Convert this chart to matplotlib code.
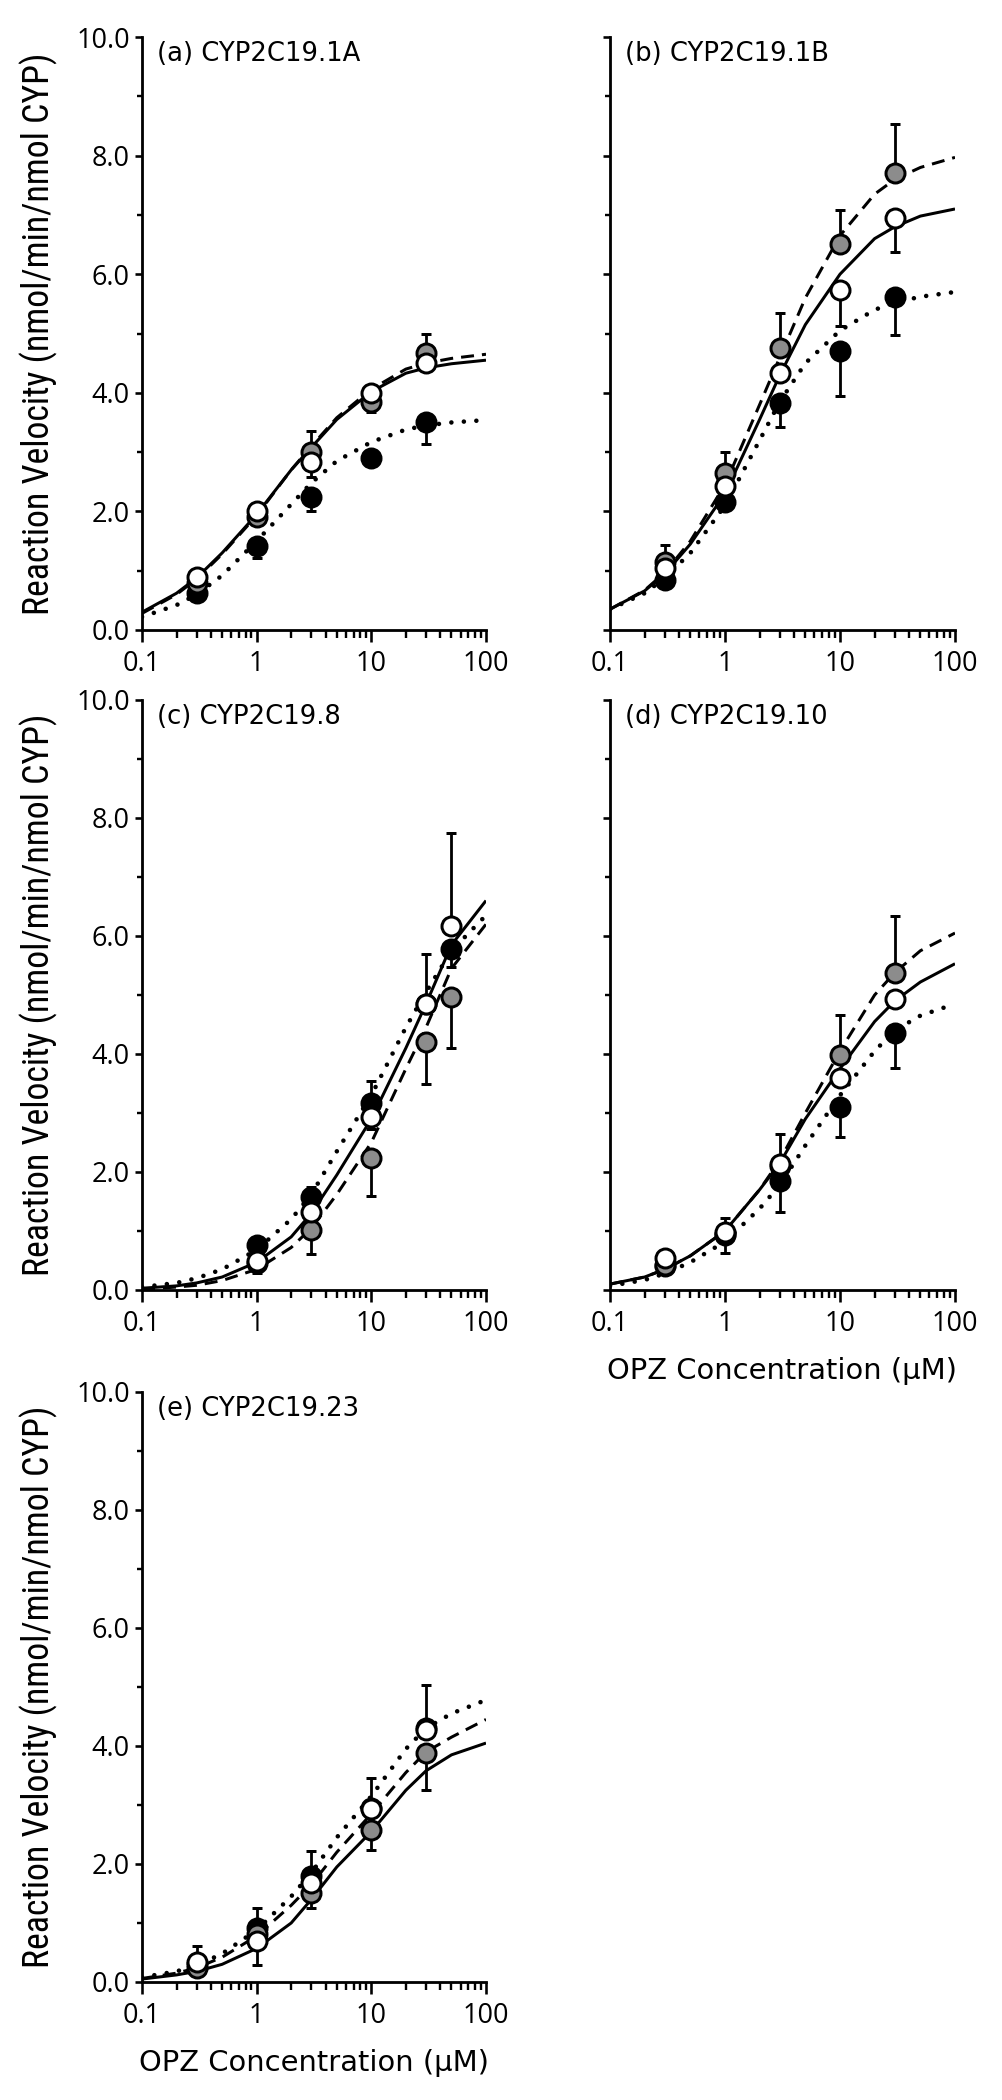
import matplotlib
matplotlib.use("Agg")
import matplotlib.pyplot as plt
from matplotlib.ticker import FixedLocator, NullFormatter, FixedFormatter

plt.rcParams['lines.scale_dashes'] = False

# ---------------- data ----------------
CURVE_X = [0.1, 0.2, 0.3, 0.5, 1, 2, 3, 5, 10, 20, 30, 50, 100]

# Panel (a) CYP2C19.1A
A_CONC = [0.3, 1, 3, 10, 30]
A_BLACK = [0.62, 1.42, 2.24, 2.90, 3.50]
A_BLACK_LO = [0.08, 0.20, 0.23, 0.05, 0.37]
A_BLACK_HI = [0, 0, 0, 0, 0]
A_GRAY = [0.80, 1.90, 3.01, 3.85, 4.67]
A_GRAY_LO = [0, 0, 0, 0.17, 0]
A_GRAY_HI = [0.05, 0.08, 0.35, 0, 0.33]
A_WHITE = [0.90, 2.00, 2.83, 3.99, 4.50]
A_WHITE_LO = [0.05, 0.05, 0.25, 0.05, 0.14]
A_WHITE_HI = [0, 0, 0, 0, 0]
A_SOLID = [0.30, 0.62, 0.88, 1.30, 1.95, 2.70, 3.08, 3.55, 4.02, 4.33, 4.42, 4.49, 4.55]
A_DASHED = [0.28, 0.60, 0.86, 1.28, 1.93, 2.70, 3.10, 3.58, 4.06, 4.40, 4.50, 4.58, 4.65]
A_DOTTED = [0.22, 0.42, 0.60, 0.92, 1.50, 2.12, 2.48, 2.85, 3.17, 3.38, 3.45, 3.50, 3.54]

# Panel (b) CYP2C19.1B
B_CONC = [0.3, 1, 3, 10, 30]
B_BLACK = [0.85, 2.16, 3.82, 4.71, 5.62]
B_BLACK_LO = [0.10, 0.12, 0.39, 0.76, 0.65]
B_BLACK_HI = [0, 0, 0, 0, 0]
B_GRAY = [1.15, 2.64, 4.75, 6.51, 7.71]
B_GRAY_LO = [0, 0, 0, 0, 0]
B_GRAY_HI = [0.28, 0.37, 0.59, 0.58, 0.83]
B_WHITE = [1.05, 2.43, 4.34, 5.73, 6.94]
B_WHITE_LO = [0.05, 0.05, 0.10, 0.60, 0.56]
B_WHITE_HI = [0, 0, 0, 0, 0]
B_SOLID = [0.35, 0.66, 0.95, 1.45, 2.30, 3.55, 4.30, 5.15, 6.00, 6.60, 6.80, 6.98, 7.10]
B_DASHED = [0.35, 0.67, 0.97, 1.50, 2.45, 3.80, 4.60, 5.60, 6.65, 7.35, 7.60, 7.80, 7.97]
B_DOTTED = [0.35, 0.62, 0.88, 1.30, 2.10, 3.20, 3.85, 4.50, 5.05, 5.40, 5.52, 5.62, 5.70]

# Panel (c) CYP2C19.8
C_CONC = [1, 3, 10, 30, 50]
C_BLACK = [0.76, 1.57, 3.17, 4.85, 5.78]
C_BLACK_LO = [0, 0, 0, 0, 0.30]
C_BLACK_HI = [0, 0.18, 0.37, 0, 0]
C_GRAY = [0.45, 1.01, 2.23, 4.20, 4.96]
C_GRAY_LO = [0, 0.40, 0.63, 0.71, 0.85]
C_GRAY_HI = [0, 0, 0, 0, 0]
C_WHITE = [0.49, 1.33, 2.94, 4.84, 6.17]
C_WHITE_LO = [0.20, 0, 0.21, 0, 0]
C_WHITE_HI = [0, 0, 0, 0.86, 1.57]
C_SOLID = [0.03, 0.07, 0.12, 0.22, 0.47, 0.90, 1.30, 1.95, 2.90, 4.10, 4.85, 5.85, 6.60]
C_DASHED = [0.01, 0.05, 0.08, 0.16, 0.35, 0.72, 1.05, 1.62, 2.50, 3.75, 4.45, 5.45, 6.20]
C_DOTTED = [0.05, 0.12, 0.20, 0.35, 0.68, 1.20, 1.62, 2.35, 3.30, 4.45, 5.05, 5.75, 6.35]

# Panel (d) CYP2C19.10
D_CONC = [0.3, 1, 3, 10, 30]
D_BLACK = [0.40, 0.93, 1.84, 3.10, 4.35]
D_BLACK_LO = [0.05, 0.30, 0.51, 0.50, 0.59]
D_BLACK_HI = [0, 0, 0, 0, 0]
D_GRAY = [0.42, 0.95, 2.10, 3.98, 5.38]
D_GRAY_LO = [0, 0, 0, 0, 0]
D_GRAY_HI = [0, 0, 0, 0.68, 0.96]
D_WHITE = [0.54, 0.98, 2.14, 3.59, 4.94]
D_WHITE_LO = [0, 0, 0, 0, 0]
D_WHITE_HI = [0, 0.24, 0.51, 0, 0]
D_SOLID = [0.10, 0.22, 0.35, 0.58, 1.00, 1.70, 2.15, 2.90, 3.75, 4.55, 4.90, 5.22, 5.53]
D_DASHED = [0.10, 0.22, 0.35, 0.58, 1.00, 1.70, 2.20, 3.00, 4.05, 5.00, 5.38, 5.75, 6.05]
D_DOTTED = [0.07, 0.17, 0.28, 0.47, 0.82, 1.38, 1.78, 2.45, 3.30, 4.05, 4.40, 4.65, 4.85]

# Panel (e) CYP2C19.23
E_CONC = [0.3, 1, 3, 10, 30]
E_BLACK = [0.30, 0.91, 1.79, 2.95, 4.30]
E_BLACK_LO = [0, 0, 0, 0, 0]
E_BLACK_HI = [0, 0.35, 0.43, 0, 0]
E_GRAY = [0.23, 0.82, 1.51, 2.58, 3.88]
E_GRAY_LO = [0, 0, 0.26, 0.35, 0.63]
E_GRAY_HI = [0, 0, 0, 0, 0]
E_WHITE = [0.34, 0.70, 1.67, 2.93, 4.27]
E_WHITE_LO = [0, 0.41, 0, 0, 0]
E_WHITE_HI = [0.27, 0, 0, 0.53, 0.76]
E_SOLID = [0.05, 0.12, 0.18, 0.30, 0.57, 1.00, 1.40, 1.95, 2.55, 3.25, 3.58, 3.85, 4.05]
E_DASHED = [0.06, 0.15, 0.24, 0.42, 0.78, 1.30, 1.65, 2.20, 2.85, 3.55, 3.90, 4.15, 4.45]
E_DOTTED = [0.08, 0.18, 0.28, 0.48, 0.88, 1.45, 1.85, 2.45, 3.15, 3.95, 4.30, 4.55, 4.78]

TITLES = ["(a) CYP2C19.1A", "(b) CYP2C19.1B", "(c) CYP2C19.8",
          "(d) CYP2C19.10", "(e) CYP2C19.23"]
X_TICKS = [0.1, 1, 10, 100]
X_TICK_LABELS = ["0.1", "1", "10", "100"]
Y_TICKS = [0, 2, 4, 6, 8, 10]
Y_TICK_LABELS = ["0.0", "2.0", "4.0", "6.0", "8.0", "10.0"]
Y_LABEL = "Reaction Velocity (nmol/min/nmol CYP)"
X_LABEL = "OPZ Concentration (\u00b5M)"

# ---------------- layout / style ----------------
W, H, DPI = 1003, 2100, 100
fig = plt.figure(figsize=(W / DPI, H / DPI), dpi=DPI)
fig.patch.set_facecolor("white")

TICK_FONT = ["Open Sans", "DejaVu Sans"]
YLAB_FONT = ["Roboto Condensed", "Open Sans Condensed", "Liberation Sans Narrow", "DejaVu Sans"]
MAIN_FONT = ["DejaVu Sans"]
GRAY = "#8c8c8c"
PX = 72.0 / DPI  # points per pixel

PANELS = [
    dict(box=(142, 37, 486, 630), title=TITLES[0], ylab=True, xlab=False,
         conc=A_CONC, pts=[(A_BLACK, A_BLACK_LO, A_BLACK_HI), (A_GRAY, A_GRAY_LO, A_GRAY_HI), (A_WHITE, A_WHITE_LO, A_WHITE_HI)],
         curves=(A_SOLID, A_DASHED, A_DOTTED)),
    dict(box=(610, 37, 955, 630), title=TITLES[1], ylab=False, xlab=False,
         conc=B_CONC, pts=[(B_BLACK, B_BLACK_LO, B_BLACK_HI), (B_GRAY, B_GRAY_LO, B_GRAY_HI), (B_WHITE, B_WHITE_LO, B_WHITE_HI)],
         curves=(B_SOLID, B_DASHED, B_DOTTED)),
    dict(box=(142, 700, 486, 1290), title=TITLES[2], ylab=True, xlab=False,
         conc=C_CONC, pts=[(C_BLACK, C_BLACK_LO, C_BLACK_HI), (C_GRAY, C_GRAY_LO, C_GRAY_HI), (C_WHITE, C_WHITE_LO, C_WHITE_HI)],
         curves=(C_SOLID, C_DASHED, C_DOTTED)),
    dict(box=(610, 700, 955, 1290), title=TITLES[3], ylab=False, xlab=True,
         conc=D_CONC, pts=[(D_BLACK, D_BLACK_LO, D_BLACK_HI), (D_GRAY, D_GRAY_LO, D_GRAY_HI), (D_WHITE, D_WHITE_LO, D_WHITE_HI)],
         curves=(D_SOLID, D_DASHED, D_DOTTED)),
    dict(box=(142, 1392, 486, 1982), title=TITLES[4], ylab=True, xlab=True,
         conc=E_CONC, pts=[(E_BLACK, E_BLACK_LO, E_BLACK_HI), (E_GRAY, E_GRAY_LO, E_GRAY_HI), (E_WHITE, E_WHITE_LO, E_WHITE_HI)],
         curves=(E_SOLID, E_DASHED, E_DOTTED)),
]

FILLS = ["black", GRAY, "white"]
ylabels, titles, xlabels = [], [], []

for p in PANELS:
    x0, y0, x1, y1 = p["box"]
    ax = fig.add_axes([x0 / W, 1 - y1 / H, (x1 - x0) / W, (y1 - y0) / H])
    ax.set_xscale("log")
    ax.set_xlim(0.1, 100)
    ax.set_ylim(0, 10)
    for s in ("top", "right"):
        ax.spines[s].set_visible(False)
    for s in ("left", "bottom"):
        ax.spines[s].set_linewidth(2.8 * PX)
    ax.patch.set_alpha(0)

    solid, dashed, dotted = p["curves"]
    ax.plot(CURVE_X, solid, color="black", lw=3.0 * PX, solid_capstyle="butt", zorder=2)
    ax.plot(CURVE_X, dashed, color="black", lw=3.0 * PX, dashes=(13 * PX, 8 * PX), zorder=2)
    ax.plot(CURVE_X, dotted, color="black", lw=4.6 * PX, dashes=(0.01, 12.5 * PX),
            dash_capstyle="round", zorder=2)

    for i, ((vals, lo, hi), fc) in enumerate(zip(p["pts"], FILLS)):
        ax.errorbar(p["conc"], vals, yerr=[lo, hi], fmt="o", ms=19 * PX, mfc=fc, mec="black",
                    mew=3.0 * PX, ecolor="black", elinewidth=2.8 * PX, capsize=5 * PX,
                    capthick=2.8 * PX, zorder=3 + i, clip_on=False)

    ax.xaxis.set_major_locator(FixedLocator(X_TICKS))
    ax.xaxis.set_major_formatter(FixedFormatter(X_TICK_LABELS))
    minors = [m * d for d in (0.1, 1, 10) for m in range(2, 10)]
    ax.xaxis.set_minor_locator(FixedLocator(minors))
    ax.xaxis.set_minor_formatter(NullFormatter())
    ax.yaxis.set_major_locator(FixedLocator(Y_TICKS))
    ax.yaxis.set_minor_locator(FixedLocator([1, 3, 5, 7, 9]))
    ax.yaxis.set_minor_formatter(NullFormatter())
    if p["ylab"]:
        ax.yaxis.set_major_formatter(FixedFormatter(Y_TICK_LABELS))
    else:
        ax.yaxis.set_major_formatter(NullFormatter())

    ax.tick_params(axis="x", which="major", direction="out", length=12 * PX, width=2.6 * PX,
                   pad=8 * PX, labelsize=27 * PX)
    ax.tick_params(axis="x", which="minor", direction="out", length=8 * PX, width=2.4 * PX)
    ax.tick_params(axis="y", which="major", direction="out", length=7 * PX, width=2.6 * PX,
                   pad=5 * PX, labelsize=27 * PX)
    ax.tick_params(axis="y", which="minor", direction="out", length=5 * PX, width=2.4 * PX)
    for lab in ax.get_xticklabels() + ax.get_yticklabels():
        lab.set_family(TICK_FONT)

    titles.append(fig.text((x0 + 15) / W, 1 - (y0 + 17) / H, p["title"], ha="left",
                           va="center", fontsize=27 * PX, family=MAIN_FONT))

    if p["ylab"]:
        t = fig.text(39 / W, 1 - ((y0 + y1) / 2) / H, Y_LABEL, rotation=90, ha="center",
                     va="center", rotation_mode="anchor", fontsize=30 * PX, family=YLAB_FONT,
                     fontstretch="condensed")
        ylabels.append(t)
    if p["xlab"]:
        xlabels.append(fig.text(((x0 + x1) / 2) / W, 1 - (y1 + 81) / H, X_LABEL, ha="center",
                                va="center", fontsize=28.5 * PX, family=MAIN_FONT))

# fit text lengths to the reference measurements (pixels)
renderer = fig.canvas.get_renderer()
for t in ylabels:
    bb = t.get_window_extent(renderer)
    t.set_fontsize(t.get_fontsize() * 563.0 / bb.height)
title_ref = titles[0].get_window_extent(renderer).width
for t in titles:
    t.set_fontsize(t.get_fontsize() * 203.0 / title_ref)
for t in xlabels:
    bb = t.get_window_extent(renderer)
    t.set_fontsize(t.get_fontsize() * 350.0 / bb.width)

fig.savefig("out.png", dpi=DPI, facecolor="white")
